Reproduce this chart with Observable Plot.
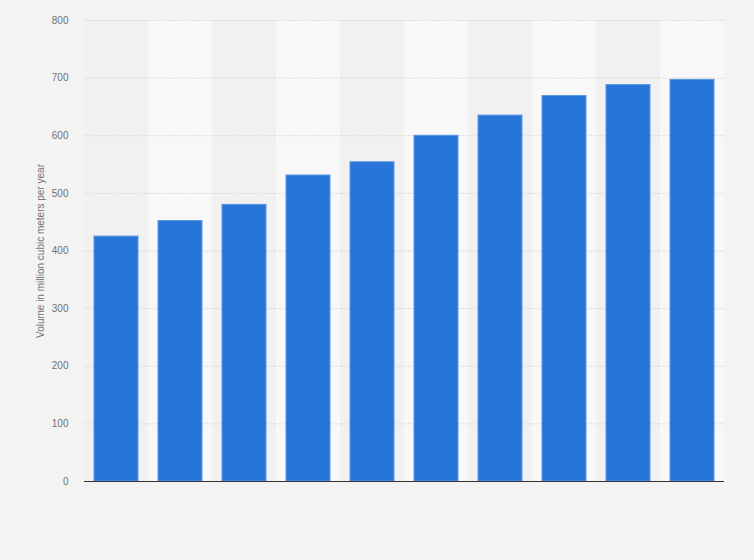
<!DOCTYPE html>
<html>
<head>
<meta charset="utf-8">
<script src="https://cdn.jsdelivr.net/npm/d3@7"></script>
<script src="https://cdn.jsdelivr.net/npm/@observablehq/plot@0.6"></script>
<style>
  html, body { margin: 0; padding: 0; background: #f3f3f3; }
  #chart svg { display: block; }
</style>
</head>
<body>
<div id="chart"></div>
<script>
const years = ["2010", "2011", "2012", "2013", "2014", "2015", "2016", "2017", "2018", "2019"];
const values = [425, 452, 480, 531, 554, 600, 635, 669, 688, 697];
const yTicks = [0, 100, 200, 300, 400, 500, 600, 700, 800];
const yLabel = "Volume in million cubic meters per year";

const data = years.map((year, i) => ({ year, value: values[i] }));
const bands = years.map((year, i) => ({ year, shade: i % 2 }));

const chart = Plot.plot({
  width: 754,
  height: 560,
  marginLeft: 84,
  marginRight: 30,
  marginTop: 20,
  marginBottom: 79,
  style: { background: "#f3f3f3", fontFamily: "'Liberation Sans', Arial, sans-serif", fontSize: "10px", color: "#707070" },
  x: { domain: years, padding: 0, axis: null },
  y: { domain: [0, 800], ticks: yTicks, tickSize: 0, tickPadding: 16, label: yLabel, labelAnchor: "center", labelOffset: 48, labelArrow: "none" },
  marks: [
    Plot.barY(bands, { x: "year", y1: 0, y2: 800, fill: d => d.shade ? "#f8f8f8" : "#f1f1f1" }),
    Plot.ruleY(yTicks.filter(t => t > 0), { stroke: "#d4d4d4", strokeDasharray: "1.5,1.5", strokeWidth: 1 }),
    Plot.barY(data, { x: "year", y: "value", fill: "#2775d9", stroke: "#5b97e3", strokeWidth: 1, insetLeft: 10, insetRight: 10 }),
    Plot.ruleY([0], { stroke: "#333", strokeWidth: 1.2 })
  ]
});
document.getElementById("chart").appendChild(chart);
</script>
</body>
</html>
